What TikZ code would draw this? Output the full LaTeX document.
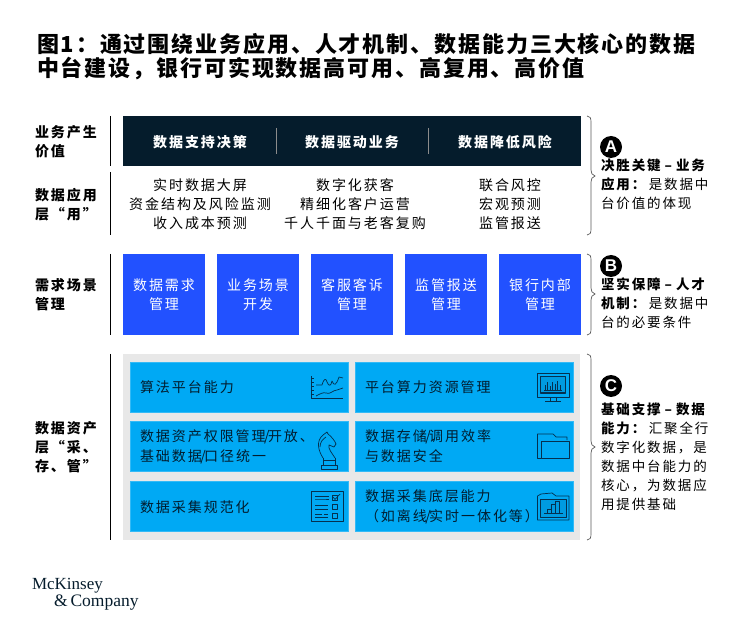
\documentclass[tikz,border=0pt]{standalone}
\usepackage{fontspec}
\setmainfont{Noto Sans CJK SC}
\newfontfamily\cjktitle[LetterSpace=8.6]{Noto Sans CJK SC}
\newfontfamily\cjk[LetterSpace=14]{Noto Sans CJK SC}
\newfontfamily\logofont{Liberation Serif}
\newfontfamily\letterfont{Liberation Sans}
\definecolor{navy}{HTML}{051C2C}
\definecolor{royal}{HTML}{2251FF}
\definecolor{cyanbox}{HTML}{00A9F4}
\definecolor{panel}{HTML}{E8E8E8}
\definecolor{inkblue}{HTML}{04304F}
\newcommand{\slashtight}{\kern-1.6pt/\kern-1.6pt}
\newcommand{\dashwide}{\kern4pt–\kern4pt}
\newcommand{\colonwide}{：\kern3.5pt}
\tikzset{
  every node/.style={inner sep=0pt,outer sep=0pt},
  rowrule/.style={draw=black,line width=0.9pt},
  rowlabel/.style={anchor=west,align=left,font=\cjk\bfseries\fontsize{14}{19}\selectfont,text=black},
  apptext/.style={align=center,font=\cjk\fontsize{14}{19}\selectfont,text=black},
  heading/.style={align=center,font=\cjk\bfseries\fontsize{14}{19}\selectfont,text=white},
  bluebox/.style={fill=royal,minimum width=82pt,minimum height=81pt,align=center,font=\cjk\fontsize{14}{19}\selectfont,text=white},
  capbox/.style={fill=cyanbox,draw=cyanbox!80!white,line width=0.5pt,anchor=north west,minimum width=218.5pt,minimum height=50pt},
  captext/.style={anchor=west,align=left,font=\cjk\fontsize{14}{20}\selectfont,text=inkblue!60!black},
  sidetext/.style={anchor=north west,align=left,font=\cjk\fontsize{13.5}{19}\selectfont,text=black},
  badge/.style={circle,fill=black,minimum size=22pt,text=white,font=\letterfont\bfseries\fontsize{17}{17}\selectfont},
  bracket/.style={draw=black!65,line width=0.7pt},
  icon/.style={draw=inkblue,line width=0.7pt,line join=round},
  logotext/.style={anchor=west,text=navy},
}
\begin{document}
\begin{tikzpicture}[x=1pt,y=-1pt]
\useasboundingbox (0,0) rectangle (750,636);
% title
\node[anchor=west,font=\cjktitle\bfseries\fontsize{22}{25}\selectfont] (title1) at (37,44) {图1：通过围绕业务应用、人才机制、数据能力三大核心的数据};
\node[anchor=west,font=\cjktitle\bfseries\fontsize{22}{25}\selectfont] (title2) at (37,69) {中台建设，银行可实现数据高可用、高复用、高价值};
% row rules
\draw[rowrule] (110.5,116) -- (110.5,166);
\draw[rowrule] (110.5,172) -- (110.5,235);
\draw[rowrule] (110.5,254) -- (110.5,335);
\draw[rowrule] (110.5,354) -- (110.5,540);
% row labels
\node[rowlabel] (l1) at (35,141.5) {业务产生\\价值};
\node[rowlabel] (l2) at (35,205) {数据应用\\层“用”};
\node[rowlabel] (l3) at (35,294.5) {需求场景\\管理};
\node[rowlabel] (l4) at (35,447) {数据资产\\层“采、\\存、管”};
% dark band
\fill[navy] (123,116) rectangle (581,166);
\draw[black!45,line width=0.5pt] (276,128) -- (276,154);
\draw[black!45,line width=0.5pt] (428,128) -- (428,154);
\node[heading] (h1) at (200,142) {数据支持决策};
\node[heading] (h2) at (352,142) {数据驱动业务};
\node[heading] (h3) at (505,142) {数据降低风险};
% application text
\node[apptext] (a1) at (200,204) {实时数据大屏\\资金结构及风险监测\\收入成本预测};
\node[apptext] (a2) at (355,204) {数字化获客\\精细化客户运营\\千人千面与老客复购};
\node[apptext] (a3) at (510,204) {联合风控\\宏观预测\\监管报送};
% blue boxes
\node[bluebox] (b1) at (164,294.5) {数据需求\\管理};
\node[bluebox] (b2) at (258,294.5) {业务场景\\开发};
\node[bluebox] (b3) at (352,294.5) {客服客诉\\管理};
\node[bluebox] (b4) at (446,294.5) {监管报送\\管理};
\node[bluebox] (b5) at (540,294.5) {银行内部\\管理};
% panel
\fill[panel] (123,354) rectangle (580,539.5);
\node[capbox] (c1) at (130,362) {};
\node[capbox] (c2) at (130,421) {};
\node[capbox] (c3) at (130,481) {};
\node[capbox] (c4) at (355,362) {};
\node[capbox] (c5) at (355,421) {};
\node[capbox] (c6) at (355,481) {};
\node[captext] (t1) at (140,387) {算法平台能力};
\node[captext] (t2) at (140,446.5) {数据资产权限管理\slashtight 开放、\\基础数据\slashtight 口径统一};
\node[captext] (t3) at (140,507) {数据采集规范化};
\node[captext] (t4) at (365,387) {平台算力资源管理};
\node[captext] (t5) at (365,446.5) {数据存储\slashtight 调用效率\\与数据安全};
\node[captext] (t6) at (365,506.5) {数据采集底层能力\\ （如离线\slashtight 实时一体化等）};
% icon: line chart
\draw[icon] (311,376) -- (311,398.5) -- (343,398.5);
\foreach \yy in {378,382,386,390,394}{\draw[icon] (311,\yy) -- (314,\yy);}
\draw[icon] (316,385) -- (322,385) .. controls (324,378) and (326,378) .. (327,382) .. controls (329,387) and (331,386) .. (332,381) .. controls (334,386) and (336,386) .. (339,377) -- (343,378);
\draw[icon] (316,396) .. controls (320,394) and (323,392) .. (326,393) .. controls (330,395) and (333,390) .. (337,390) -- (343,388);
% icon: monitor
\draw[icon] (537,373) rectangle (569,397);
\draw[icon,line width=1pt,fill=cyanbox!92!black] (540.5,377) rectangle (565.5,393);
\draw[icon] (544,390) -- (562,390);
\foreach \xx/\yy in {545/385,547.5/382,550/386,552.5/382,555/384,557.5/381,560/385}{\draw[icon,line width=0.4pt] (\xx,390) -- (\xx,\yy);}
\draw[icon] (550,397) -- (550,401) (556,397) -- (556,401) (545,401.5) -- (561,401.5);
% icon: knight
\draw[icon] (321,469) -- (337,469) -- (337,465) -- (321,465) -- cycle;
\draw[icon] (323,465) -- (323,458) (335,465) -- (335,458) (323,460) -- (335,460);
\draw[icon] (323,458) .. controls (318,450) and (316,441) .. (323,435) -- (327,432) -- (328,434)
  .. controls (331,436) and (335,441) .. (336,444) -- (334,447) -- (329,445) .. controls (328,449) and (332,453) .. (335,458);
\draw[icon] (320,447) .. controls (320,442) and (323,439) .. (326,437);
% icon: checklist
\draw[icon] (311,491) rectangle (343,521.5);
\draw[icon] (315,496) -- (329,496) (315,499) -- (324,499) -- (329,499);
\draw[icon] (315,505.5) -- (328,505.5) (315,509) -- (328,509);
\draw[icon] (315,514.5) -- (322,514.5) (324,514.5) -- (328,514.5) (315,517) -- (328,517);
\draw[icon] (332,495.5) rectangle (337,500.5) (332,504.5) rectangle (337,509.5) (332,513.5) rectangle (337,518.5);
\draw[icon] (333,497) -- (335,499.5) -- (340,494);
% icon: folder
\draw[icon] (541,458.5) -- (537.5,458.5) -- (537.5,434) -- (553,434) -- (556,437) -- (567,437) -- (567,440);
\draw[icon] (541,458.5) -- (541,441) -- (569,441) -- (569,458.5) -- cycle;
% icon: folder chart
\draw[icon] (537.5,520) -- (537.5,496) -- (541,494) -- (552,493) -- (556,496) -- (569,496) -- (569,520) -- cycle;
\draw[icon,line width=1pt,fill=cyanbox!92!black] (540.5,499) rectangle (566,517);
\draw[icon] (544,513.5) -- (563,513.5);
\draw[icon,line width=0.6pt] (547,513.5) -- (547,509) -- (551,509) -- (551,513.5) (551,513.5) -- (551,504.5) -- (555,504.5) -- (555,513.5) (555,513.5) -- (555,501.5) -- (559,501.5) -- (559,513.5);
% brackets
\draw[bracket] (587,116) .. controls (590,116) and (591,118) .. (591,122) -- (591,170) .. controls (591,173) and (592,175) .. (595,176) .. controls (592,177) and (591,179) .. (591,182) -- (591,229) .. controls (591,233) and (590,235) .. (587,235);
\draw[bracket] (587,254) .. controls (590,254) and (591,256) .. (591,260) -- (591,288) .. controls (591,291) and (592,293) .. (595,294) .. controls (592,295) and (591,297) .. (591,300) -- (591,329) .. controls (591,333) and (590,335) .. (587,335);
\draw[bracket] (587,354) .. controls (590,354) and (591,356) .. (591,360) -- (591,441) .. controls (591,444) and (592,446) .. (595,447) .. controls (592,448) and (591,450) .. (591,453) -- (591,534) .. controls (591,538) and (590,540) .. (587,540);
% side notes
\node[badge] (ba) at (611,147) {A};
\node[badge] (bb) at (611,266) {B};
\node[badge] (bc) at (611,386) {C};
\node[sidetext] (sa) at (601,159) {{\bfseries 决胜关键\dashwide 业务}\\{\bfseries 应用\colonwide}是数据中\\台价值的体现};
\node[sidetext] (sb) at (601,278) {{\bfseries 坚实保障\dashwide 人才}\\{\bfseries 机制\colonwide}是数据中\\台的必要条件};
\node[sidetext] (sc) at (601,403) {{\bfseries 基础支撑\dashwide 数据}\\{\bfseries 能力\colonwide}汇聚全行\\数字化数据，是\\数据中台能力的\\核心，为数据应\\用提供基础};
% logo
\node[logotext,font=\logofont\fontsize{17}{17}\selectfont] (m1) at (32,586) {McKinsey};
\node[logotext,font=\logofont\fontsize{17.5}{17.5}\selectfont] (m2) at (54,603) {\&\,Company};
\end{tikzpicture}
\end{document}
